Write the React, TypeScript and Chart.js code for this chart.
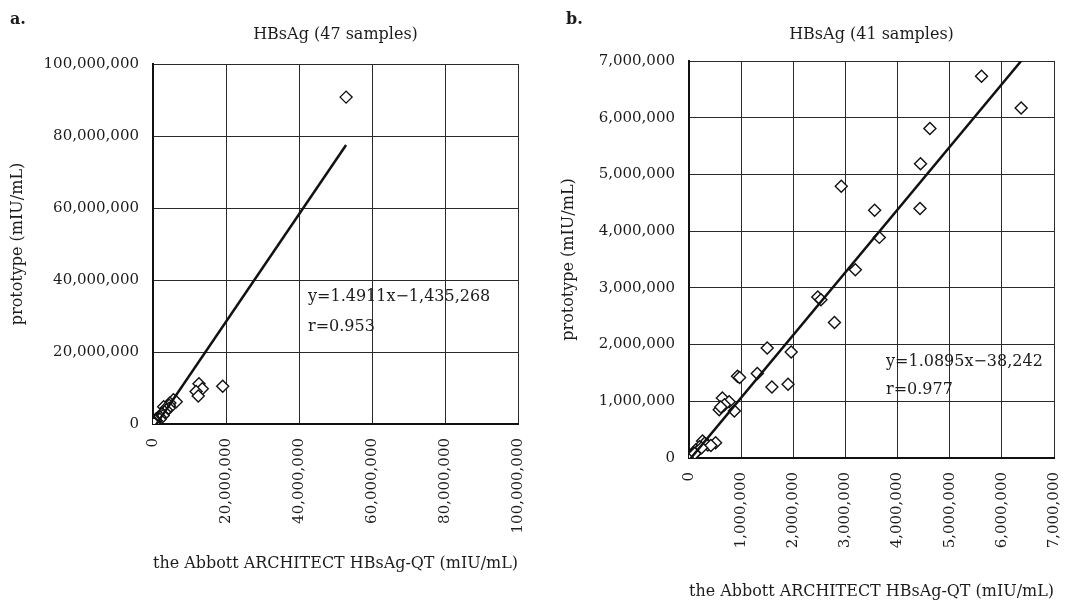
import React, { useEffect, useRef } from 'react';
import { Chart, registerables } from 'chart.js';

Chart.register(...registerables);

// ---------- data (mIU/mL) ----------
// panel b: 41 samples
const B_X = [5610000, 6370000, 4620000, 4440000, 2920000, 3560000, 4430000, 3650000, 3190000, 2470000,
  2530000, 2790000, 1500000, 1960000, 1310000, 930000, 970000, 1590000, 1900000, 640000,
  770000, 680000, 580000, 870000, 610000, 510000, 260000, 360000, 300000, 420000,
  200000, 130000, 160000, 90000, 70000, 50000, 30000, 20000, 10000, 110000, 240000];
const B_Y = [6730000, 6170000, 5810000, 5190000, 4790000, 4370000, 4400000, 3890000, 3320000, 2840000,
  2790000, 2390000, 1940000, 1870000, 1490000, 1440000, 1420000, 1250000, 1300000, 1060000,
  990000, 940000, 850000, 830000, 900000, 270000, 300000, 230000, 260000, 220000,
  200000, 140000, 120000, 90000, 60000, 40000, 30000, 10000, 20000, 80000, 180000];

// panel a: the same 41 low samples plus 6 high ones = 47 samples
const A_EXTRA_X = [52900000, 19100000, 12600000, 13500000, 11800000, 12400000];
const A_EXTRA_Y = [90800000, 10500000, 11200000, 9800000, 9000000, 7800000];
const A_X = [...B_X, ...A_EXTRA_X];
const A_Y = [...B_Y, ...A_EXTRA_Y];

// regression lines (end points)
const A_FIT_X = [10000, 52900000];
const A_FIT_Y = [-1420000, 77500000];
const B_FIT_X = [20000, 6370000];
const B_FIT_Y = [-20000, 7000000];

// ticks
const A_TICKS = [0, 20000000, 40000000, 60000000, 80000000, 100000000];
const B_TICKS = [0, 1000000, 2000000, 3000000, 4000000, 5000000, 6000000, 7000000];

// texts
const A_LABEL = 'a.';
const B_LABEL = 'b.';
const A_TITLE = 'HBsAg (47 samples)';
const B_TITLE = 'HBsAg (41 samples)';
const A_EQ = ['y=1.4911x\u22121,435,268', 'r=0.953'];
const B_EQ = ['y=1.0895x\u221238,242', 'r=0.977'];
const X_TITLE = 'the Abbott ARCHITECT HBsAg-QT (mIU/mL)';
const Y_TITLE = 'prototype (mIU/mL)';

const FONT = "'DejaVu Serif', serif";
const INK = '#1c1c1c';

type TextItem = { text: string; x: number | 'center'; y: number; font: string; align: CanvasTextAlign };

const textPlugin = {
  id: 'panelText',
  afterDraw(chart: any, _args: any, opts: any) {
    const ctx = chart.ctx as CanvasRenderingContext2D;
    const items: TextItem[] = opts.items || [];
    const ca = chart.chartArea;
    for (const t of items) {
      ctx.save();
      ctx.font = t.font;
      ctx.fillStyle = INK;
      ctx.textAlign = t.align;
      ctx.textBaseline = 'middle';
      const x = t.x === 'center' ? (ca.left + ca.right) / 2 : t.x;
      ctx.fillText(t.text, x, t.y);
      ctx.restore();
    }
  },
};

type PanelProps = {
  left: number;
  width: number;
  height: number;
  xs: number[];
  ys: number[];
  fitX: number[];
  fitY: number[];
  ticks: number[];
  yAxisWidth: number;
  xAxisHeight: number;
  padTop: number;
  padRight: number;
  yTitlePad: number;
  xTitlePad: number;
  texts: TextItem[];
};

const fmt = (v: number) => Number(v).toLocaleString('en-US');

function Panel(p: PanelProps) {
  const ref = useRef<HTMLCanvasElement | null>(null);
  useEffect(() => {
    if (!ref.current) return;
    const min = p.ticks[0];
    const max = p.ticks[p.ticks.length - 1];
    const gridCommon = { color: '#2a2a2a', lineWidth: 1, drawTicks: false };
    const chart = new Chart(ref.current, {
      type: 'scatter',
      data: {
        datasets: [
          {
            type: 'line',
            data: p.fitX.map((x, i) => ({ x, y: p.fitY[i] })),
            borderColor: '#111',
            borderWidth: 2.5,
            pointRadius: 0,
            showLine: true,
            fill: false,
            order: 0,
          } as any,
          {
            type: 'scatter',
            data: p.xs.map((x, i) => ({ x, y: p.ys[i] })),
            pointStyle: 'rectRot',
            pointRadius: 6,
            borderColor: '#111',
            borderWidth: 1.4,
            backgroundColor: '#ffffff',
            order: 1,
          } as any,
        ],
      },
      options: {
        responsive: false,
        animation: false,
        devicePixelRatio: 1,
        layout: { padding: { top: p.padTop, right: p.padRight, left: 0, bottom: 0 } },
        plugins: {
          legend: { display: false },
          title: { display: false },
          tooltip: { enabled: false },
          panelText: { items: p.texts },
        } as any,
        scales: {
          x: {
            type: 'linear',
            min,
            max,
            afterBuildTicks: (s: any) => { s.ticks = p.ticks.map((v) => ({ value: v })); },
            afterFit: (s: any) => {
              s.height = p.xAxisHeight;
              s.paddingLeft = 0;
              s.paddingRight = 0;
            },
            grid: gridCommon,
            border: { display: true, color: '#111', width: 2 },
            ticks: {
              autoSkip: false,
              minRotation: 90,
              maxRotation: 90,
              padding: 14,
              color: INK,
              font: { family: FONT, size: 15 },
              callback: (v: any) => fmt(v),
            },
            title: {
              display: true,
              text: X_TITLE,
              color: INK,
              font: { family: FONT, size: 16 },
              padding: { top: 0, bottom: p.xTitlePad },
            },
          },
          y: {
            type: 'linear',
            min,
            max,
            afterBuildTicks: (s: any) => { s.ticks = p.ticks.map((v) => ({ value: v })); },
            afterFit: (s: any) => {
              s.width = p.yAxisWidth;
              s.paddingTop = 0;
              s.paddingBottom = 0;
            },
            grid: gridCommon,
            border: { display: true, color: '#111', width: 2 },
            ticks: {
              padding: 14,
              color: INK,
              font: { family: FONT, size: 15 },
              callback: (v: any) => fmt(v),
            },
            title: {
              display: true,
              text: Y_TITLE,
              color: INK,
              font: { family: FONT, size: 16 },
              padding: { top: p.yTitlePad, bottom: 0 },
            },
          },
        },
      },
      plugins: [textPlugin as any],
    });
    return () => chart.destroy();
  }, []);
  return (
    <canvas
      ref={ref}
      width={p.width}
      height={p.height}
      style={{ position: 'absolute', left: p.left, top: 0, width: p.width, height: p.height }}
    />
  );
}

export default function App() {
  const eqFont = `16px ${FONT}`;
  const titleFont = `16px ${FONT}`;
  const labelFont = `bold 16px ${FONT}`;
  return (
    <div style={{ position: 'absolute', left: 0, top: 0, width: 1076, height: 601, background: '#fff' }}>
      <Panel
        left={0}
        width={540}
        height={601}
        xs={A_X}
        ys={A_Y}
        fitX={A_FIT_X}
        fitY={A_FIT_Y}
        ticks={A_TICKS}
        yAxisWidth={153}
        xAxisHeight={177}
        padTop={64}
        padRight={22}
        yTitlePad={8}
        xTitlePad={28}
        texts={[
          { text: A_LABEL, x: 10, y: 20, font: labelFont, align: 'left' },
          { text: A_TITLE, x: 'center', y: 35, font: titleFont, align: 'center' },
          { text: A_EQ[0], x: 308, y: 297, font: eqFont, align: 'left' },
          { text: A_EQ[1], x: 308, y: 327, font: eqFont, align: 'left' },
        ]}
      />
      <Panel
        left={540}
        width={536}
        height={601}
        xs={B_X}
        ys={B_Y}
        fitX={B_FIT_X}
        fitY={B_FIT_Y}
        ticks={B_TICKS}
        yAxisWidth={149}
        xAxisHeight={143}
        padTop={61}
        padRight={22}
        yTitlePad={19}
        xTitlePad={0}
        texts={[
          { text: B_LABEL, x: 26, y: 20, font: labelFont, align: 'left' },
          { text: B_TITLE, x: 'center', y: 35, font: titleFont, align: 'center' },
          { text: B_EQ[0], x: 346, y: 362, font: eqFont, align: 'left' },
          { text: B_EQ[1], x: 346, y: 390, font: eqFont, align: 'left' },
        ]}
      />
    </div>
  );
}
